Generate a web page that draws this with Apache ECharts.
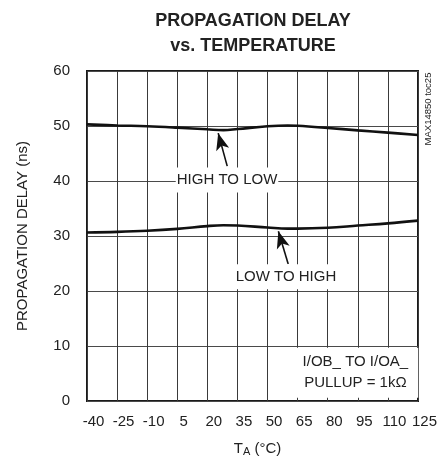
<!DOCTYPE html>
<html><head><meta charset="utf-8">
<script src="https://cdn.jsdelivr.net/npm/echarts@6/dist/echarts.min.js"></script>
<style>html,body{margin:0;padding:0;background:#fff}#c{width:442px;height:462px}</style>
</head><body><div id="c"></div>
<script>
// Data
const temps      = [-40, -25, -10, 5, 20, 28, 35, 50, 60, 65, 80, 95, 110, 125];
const highToLow  = [50.3, 50.1, 49.95, 49.7, 49.4, 49.25, 49.45, 49.95, 50.1, 50.05, 49.65, 49.2, 48.8, 48.35];
const lowToHigh  = [30.65, 30.75, 30.95, 31.3, 31.8, 31.95, 31.9, 31.55, 31.35, 31.35, 31.5, 31.9, 32.3, 32.8];
const xRange = [-40, 125], xStep = 15;
const yRange = [0, 60], yStep = 10;

// Annotation anchors (data coordinates)
const hlLabel = [29.8, 40.2], hlArrow = [[29.9, 42.7], [25.4, 48.7]];
const lhLabel = [59.2, 22.6], lhArrow = [[60.3, 24.9], [55.4, 30.85]];
const condLabel = [93.8, 5.15];

const F = "'Liberation Sans', Arial, Helvetica, sans-serif";
const TXT = '#222';

function pairs(xs, ys){ return xs.map((x,i)=>[x, ys[i]]); }

function labelPoint(coord, text, pad, extraLabel){
  return {
    coord: coord,
    symbol: 'rect', symbolSize: 1,
    itemStyle: {color: 'rgba(0,0,0,0)'},
    label: Object.assign({
      show: true, position: 'inside', formatter: text,
      color: TXT, fontFamily: F, fontSize: 15,
      backgroundColor: '#fff', padding: pad
    }, extraLabel || {})
  };
}

const arrowMark = (seg) => ({
  silent: true,
  symbol: ['none', 'arrow'],
  symbolSize: [10, 17],
  label: {show: false},
  lineStyle: {color: '#111', width: 1.6, type: 'solid'},
  emphasis: {disabled: true},
  data: [[{coord: seg[0]}, {coord: seg[1]}]]
});

const chart = echarts.init(document.getElementById('c'), null, {renderer: 'canvas'});
chart.setOption({
  animation: false,
  backgroundColor: '#fff',
  title: {
    text: 'PROPAGATION DELAY\nvs. TEMPERATURE',
    left: 248, top: 3, textAlign: 'center',
    textStyle: {fontFamily: F, fontSize: 18, fontWeight: 'bold', color: TXT, lineHeight: 25.5}
  },
  grid: {left: 87, top: 71, right: 24, bottom: 59, show: true, borderColor: '#1a1a1a', borderWidth: 2, backgroundColor: 'transparent'},
  xAxis: {
    type: 'value', min: xRange[0], max: xRange[1], interval: xStep,
    name: 'T{s|A} (°C)', nameLocation: 'middle', nameGap: 39,
    nameTextStyle: {fontFamily: F, fontSize: 15, color: TXT, padding: [0,0,0,10],
      rich: {s: {fontFamily: F, fontSize: 11, color: TXT, verticalAlign: 'bottom', padding: [6,0,0,0]}}},
    axisLine: {show: false}, axisTick: {show: false},
    axisLabel: {fontFamily: F, fontSize: 15, color: TXT, margin: 13, padding: [0,0,0,13]},
    splitLine: {show: true, lineStyle: {color: '#3a3a3a', width: 1}}
  },
  yAxis: {
    type: 'value', min: yRange[0], max: yRange[1], interval: yStep,
    name: 'PROPAGATION DELAY (ns)', nameLocation: 'middle', nameGap: 57,
    nameTextStyle: {fontFamily: F, fontSize: 15, color: TXT},
    axisLine: {show: false}, axisTick: {show: false},
    axisLabel: {fontFamily: F, fontSize: 15, color: TXT, margin: 17},
    splitLine: {show: true, lineStyle: {color: '#4a4a4a', width: 1}}
  },
  series: [
    {
      type: 'line', name: 'HIGH TO LOW', data: pairs(temps, highToLow),
      smooth: 0.4, showSymbol: false, symbol: 'none',
      lineStyle: {color: '#111', width: 2.6},
      markLine: arrowMark(hlArrow),
      markPoint: {silent: true, data: [labelPoint(hlLabel, 'HIGH TO LOW', [5, 1, 5, 1])]}
    },
    {
      type: 'line', name: 'LOW TO HIGH', data: pairs(temps, lowToHigh),
      smooth: 0.4, showSymbol: false, symbol: 'none',
      lineStyle: {color: '#111', width: 2.6},
      markLine: arrowMark(lhArrow),
      markPoint: {silent: true, data: [
        labelPoint(lhLabel, 'LOW TO HIGH', [5, 2, 5, 2]),
        labelPoint(condLabel, 'I/OB_ TO I/OA_\nPULLUP = 1kΩ', [4, 10, 4, 10], {lineHeight: 21, align: 'center'})
      ]}
    }
  ],
  graphic: [{
    type: 'text', x: 428, y: 109, rotation: Math.PI / 2,
    style: {text: 'MAX14850 toc25', fontFamily: F, fontSize: 9.5, fill: TXT, align: 'center', verticalAlign: 'middle'}
  }]
});
</script></body></html>
